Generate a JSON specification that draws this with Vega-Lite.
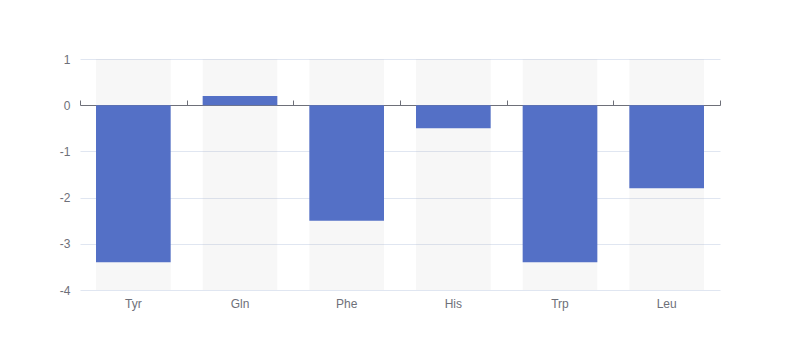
{
  "$schema": "https://vega.github.io/schema/vega-lite/v6.json",
  "width": 640,
  "height": 231,
  "autosize": {"type": "none"},
  "padding": {"left": 80, "top": 59, "right": 80, "bottom": 70},
  "config": {"view": {"stroke": null}, "font": "sans-serif"},
  "data": {"values": [
    {"name": "Tyr", "value": -3.4},
    {"name": "Gln", "value": 0.2},
    {"name": "Phe", "value": -2.5},
    {"name": "His", "value": -0.5},
    {"name": "Trp", "value": -3.4},
    {"name": "Leu", "value": -1.8}
  ]},
  "layer": [
    {
      "mark": {"type": "bar", "color": "#b4b4b4", "opacity": 0.1},
      "encoding": {
        "x": {"field": "name", "type": "nominal", "sort": null,
              "scale": {"paddingInner": 0.3, "paddingOuter": 0.15},
              "axis": {"title": null, "domain": false, "ticks": false, "labelAngle": 0, "labelPadding": 8, "labelColor": "#6e7079", "labelFontSize": 12}},
        "y": {"datum": -4, "type": "quantitative",
              "scale": {"domain": [-4, 1], "nice": false},
              "axis": {"title": null, "grid": true, "values": [-4, -3, -2, -1, 0, 1], "labelExpr": "datum.value + ''", "domain": false, "ticks": false, "labelPadding": 10, "labelColor": "#6e7079", "labelFontSize": 12, "gridColor": "#e0e6f1", "gridOpacity": 1}},
        "y2": {"datum": 1}
      }
    },
    {
      "mark": {"type": "bar", "color": "#5470c6"},
      "encoding": {
        "x": {"field": "name", "type": "nominal", "sort": null,
              "scale": {"paddingInner": 0.3, "paddingOuter": 0.15}, "axis": null},
        "y": {"field": "value", "type": "quantitative"},
        "y2": {"datum": 0}
      }
    },
    {
      "mark": {"type": "point", "opacity": 0},
      "encoding": {
        "x": {"field": "name", "type": "nominal", "sort": null,
              "scale": {"padding": 0},
              "axis": {"title": null, "labels": false, "offset": -46, "domain": true, "domainColor": "#6e7079", "ticks": true, "tickColor": "#6e7079", "tickSize": 5, "tickBand": "extent"}}
      }
    }
  ],
  "resolve": {"scale": {"x": "independent"}, "axis": {"x": "independent"}}
}
